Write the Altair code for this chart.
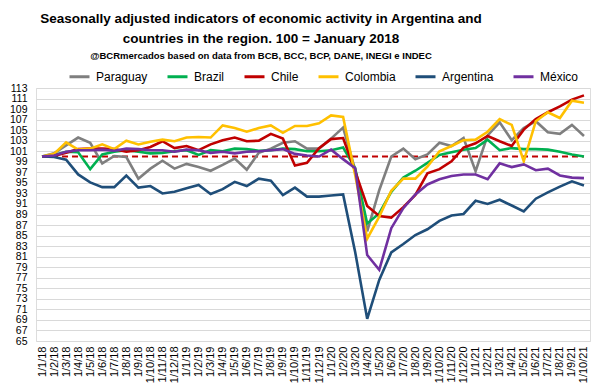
import altair as alt
import pandas as pd

months = ["1/1/18", "1/2/18", "1/3/18", "1/4/18", "1/5/18", "1/6/18", "1/7/18", "1/8/18",
          "1/9/18", "1/10/18", "1/11/18", "1/12/18",
          "1/1/19", "1/2/19", "1/3/19", "1/4/19", "1/5/19", "1/6/19", "1/7/19", "1/8/19",
          "1/9/19", "1/10/19", "1/11/19", "1/12/19",
          "1/1/20", "1/2/20", "1/3/20", "1/4/20", "1/5/20", "1/6/20", "1/7/20", "1/8/20",
          "1/9/20", "1/10/20", "1/11/20", "1/12/20",
          "1/1/21", "1/2/21", "1/3/21", "1/4/21", "1/5/21", "1/6/21", "1/7/21", "1/8/21",
          "1/9/21", "1/10/21"]

paraguay = [100, 100.6, 102.1, 103.6, 102.6, 98.7, 100.1, 99.9, 95.8, 97.7, 99.2, 97.7,
            98.6, 98.0, 97.3, 98.4, 99.6, 97.5, 100.7, 101.5, 102.6, 102.9, 101.5, 101.5,
            103.4, 105.5, 97.5, 85.8, 93.6, 100.0, 101.5, 99.5, 100.4, 102.6, 102.0, 103.5,
            97.2, 104.0, 106.5, 103.1, 105.4, 106.7, 104.6, 104.3, 106.0, 103.9]
brazil = [100, 100.3, 100.9, 100.8, 97.6, 100.4, 100.9, 101.2, 100.9, 100.6, 100.7, 101.0,
          101.2, 100.3, 101.2, 101.0, 101.5, 101.4, 101.1, 101.2, 101.5, 101.4, 101.0, 101.0,
          101.2, 101.7, 97.8, 87.3, 89.2, 93.3, 96.0, 97.3, 98.8, 100.3, 100.8, 101.3,
          101.6, 103.2, 101.2, 101.6, 101.4, 101.4, 101.3, 100.9, 100.4, 100.0]
chile = [100, 100.1, 100.7, 101.4, 101.5, 101.5, 101.4, 100.9, 101.2, 101.8, 102.9, 101.6,
         102.0, 101.2, 102.3, 103.1, 103.6, 102.9, 103.0, 104.3, 103.4, 98.3, 98.8, 101.6,
         103.3, 103.5, 97.2, 90.6, 88.7, 88.4, 90.4, 92.7, 96.8, 97.6, 99.1, 101.7,
         102.5, 103.9, 102.9, 102.0, 105.1, 107.1, 108.4, 109.5, 110.8, 111.6]
colombia = [100, 100.5, 102.7, 101.3, 101.5, 102.3, 101.4, 103.0, 102.3, 102.8, 103.2, 102.9,
            103.6, 103.7, 103.6, 105.9, 105.4, 104.7, 105.4, 105.9, 104.5, 105.8, 105.8, 106.3,
            107.8, 107.5, 96.5, 84.4, 88.6, 93.5, 95.8, 95.8, 98.1, 101.0, 102.0, 103.1,
            103.2, 104.7, 107.1, 106.0, 99.1, 106.7, 108.4, 107.3, 110.6, 110.2]
argentina = [100, 99.9, 99.4, 96.6, 95.1, 94.2, 94.2, 96.4, 94.1, 94.4, 93.0, 93.3,
             94.0, 94.6, 92.9, 93.8, 95.2, 94.4, 95.8, 95.4, 92.7, 94.1, 92.4, 92.4,
             92.6, 92.8, 81.9, 69.2, 76.6, 81.8, 83.4, 85.1, 86.2, 87.8, 88.8, 89.1,
             91.6, 91.0, 91.8, 90.7, 89.6, 92.0, 93.2, 94.3, 95.3, 94.5]
mexico = [100, 100.2, 100.9, 101.2, 101.2, 101.3, 101.1, 101.5, 101.4, 101.2, 101.2, 100.9,
          101.3, 101.2, 100.7, 100.9, 100.6, 100.9, 101.0, 101.2, 101.4, 100.5, 100.2, 100.0,
          101.3, 99.5, 97.8, 81.3, 78.5, 86.4, 90.2, 92.8, 94.7, 95.7, 96.3, 96.6,
          96.6, 95.7, 98.7, 98.0, 98.5, 97.4, 97.7, 96.4, 96.0, 95.9]

series_names = ["Paraguay", "Brazil", "Chile", "Colombia", "Argentina", "México"]
series_values = [paraguay, brazil, chile, colombia, argentina, mexico]
colors = ["#7f7f7f", "#00b050", "#c00000", "#ffc000", "#1f4e79", "#7030a0"]
base_level = 100
y_ticks = list(range(65, 114, 2))

rows = []
for k, (name, vals) in enumerate(zip(series_names, series_values)):
    for m, v in zip(months, vals):
        rows.append({"month": m, "value": v, "series": name, "k": k})
df = pd.DataFrame(rows)
ref_df = pd.DataFrame({"month": months, "value": [base_level] * len(months)})

FONT = "Liberation Sans, Arial, sans-serif"

x_enc = alt.X("month:O", sort=months,
              scale=alt.Scale(type="point", padding=0.5),
              axis=alt.Axis(title=None, labelAngle=270, labelFontSize=11, labelFont=FONT,
                            labelColor="#000000", ticks=False, domain=False,
                            labelPadding=5, grid=False))
y_enc = alt.Y("value:Q",
              scale=alt.Scale(domain=[65, 113], nice=False, zero=False),
              axis=alt.Axis(title=None, values=y_ticks, ticks=False, domain=False,
                            labelFontSize=10.5, labelFont=FONT, labelColor="#000000",
                            labelOverlap=False, labelPadding=9,
                            gridColor="#d9d9d9", gridWidth=1))

ref = alt.Chart(ref_df).mark_line(color="#c00000", strokeWidth=2, strokeDash=[6, 4]).encode(
    x=x_enc, y=y_enc)

lines = alt.Chart(df).mark_line(strokeWidth=2.6).encode(
    x=x_enc, y=y_enc,
    color=alt.Color("series:N", sort=series_names,
                    scale=alt.Scale(domain=series_names, range=colors),
                    legend=alt.Legend(title=None, orient="none", legendX=32, legendY=-23,
                                      direction="horizontal", symbolType="stroke",
                                      symbolStrokeWidth=3, symbolSize=400,
                                      labelFontSize=12, labelFont=FONT, labelColor="#000000",
                                      labelOffset=5, columnPadding=13)),
    order=alt.Order("k:Q"))

chart = alt.layer(ref, lines).properties(
    width=554, height=253,
    title=alt.TitleParams(
        text=["Seasonally adjusted indicators of economic activity in Argentina and",
              "countries in the region. 100 = January 2018"],
        subtitle="@BCRmercados based on data from BCB, BCC, BCP, DANE, INEGI e INDEC",
        font=FONT, fontSize=13.5, fontWeight="bold", color="#000000", lineHeight=20,
        subtitleFont=FONT, subtitleFontSize=9.5, subtitleFontWeight="bold",
        subtitleColor="#000000", subtitlePadding=5,
        anchor="middle", dx=-52, offset=5),
    autosize=alt.AutoSizeParams(type="none"),
    padding={"left": 28, "top": 80, "right": 2, "bottom": 42},
).configure_view(stroke=None).configure(background="#ffffff")

chart.save("out.html", embed_options={"renderer": "svg", "actions": False})
